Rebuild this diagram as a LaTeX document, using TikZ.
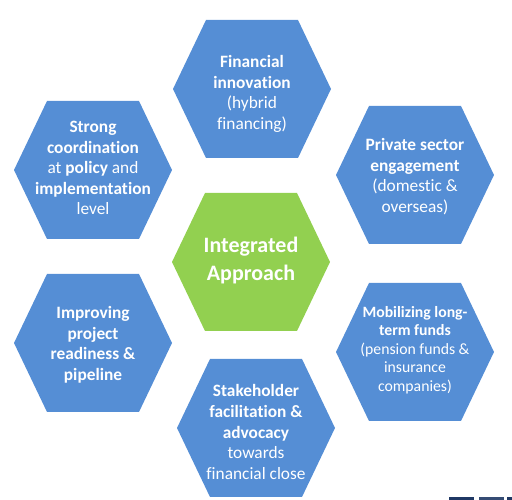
\documentclass[tikz,border=0pt]{standalone}
\usepackage{fontspec}
\setmainfont{Carlito}[Ligatures=NoCommon]
\definecolor{hexblue}{HTML}{558ED5}
\definecolor{hexgreen}{HTML}{92D050}
\definecolor{logonavy}{HTML}{1F3864}
\newcommand\hexa[3]{%
  \fill[#3] (#1-79,#2) -- (#1-46,#2+69) -- (#1+46,#2+69) -- (#1+79,#2)
    -- (#1+46,#2-69) -- (#1-46,#2-69) -- cycle;}
\begin{document}
\begin{tikzpicture}[x=0.75pt,y=0.75pt,
  txt/.style={text=white,align=center,inner sep=0pt,font=\fontsize{13}{15.4}\selectfont},
  smalltxt/.style={txt,font=\fontsize{11.8}{13.9}\selectfont},
  bigtxt/.style={txt,font=\fontsize{16.5}{21}\selectfont}]
\useasboundingbox (0,0) rectangle (512,500);
\hexa{252}{411}{hexblue}
\hexa{93}{330}{hexblue}
\hexa{415}{325}{hexblue}
\hexa{251}{238}{hexgreen}
\hexa{93}{157}{hexblue}
\hexa{415}{148}{hexblue}
\hexa{256}{72}{hexblue}
\node[txt] (fin) at (252,406) {\textbf{Financial}\\\textbf{innovation}\\(hybrid\\financing)};
\node[txt] (coord) at (93,332) {\textbf{Strong}\\\textbf{coordination}\\at \textbf{policy} and\\\textbf{implementation}\\level};
\node[txt] (priv) at (415,323.5) {\textbf{Private sector}\\\textbf{engagement}\\(domestic \&\\overseas)};
\node[bigtxt] (integ) at (251,239) {\textbf{Integrated}\\\textbf{Approach}};
\node[txt] (ready) at (93,155) {\textbf{Improving}\\\textbf{project}\\\textbf{readiness \&}\\\textbf{pipeline}};
\node[smalltxt] (funds) at (415,150) {\textbf{Mobilizing long-}\\\textbf{term funds}\\(pension funds \&\\insurance\\companies)};
\node[txt] (stake) at (256,68) {\textbf{Stakeholder}\\\textbf{facilitation \&}\\\textbf{advocacy}\\towards\\financial close};
\fill[logonavy] (449,0) rectangle (474,3);
\fill[logonavy!90!white] (479,0) rectangle (504,3);
\fill[logonavy] (507,0) rectangle (512,3);
\end{tikzpicture}
\end{document}
